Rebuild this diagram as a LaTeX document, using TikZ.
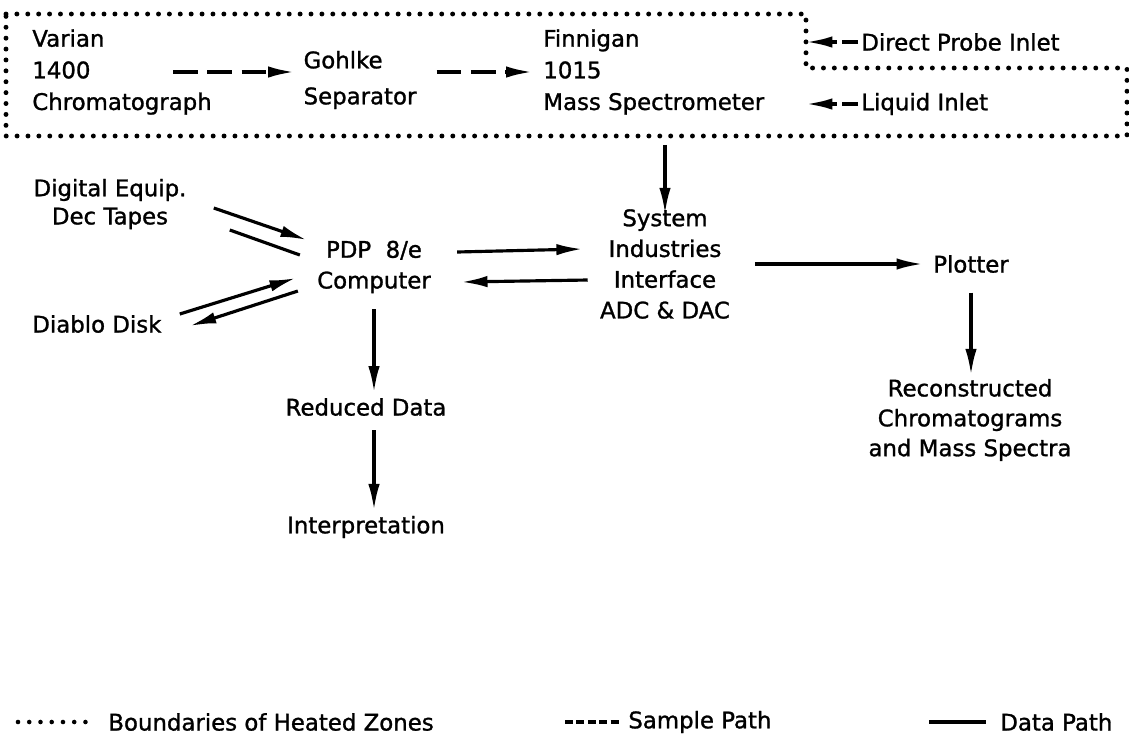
\documentclass[tikz,border=0pt]{standalone}
\usepackage{fontspec}
\setmainfont{DejaVu Sans}[FakeBold=1.2]
\usetikzlibrary{arrows.meta}
\tikzset{
  lbl/.style={inner sep=0pt, font=\fontsize{13}{17.5}\selectfont},
  heatzone/.style={line width=2.8pt, line cap=round, dash pattern=on 0pt off 6.2pt},
  samplepath/.style={line width=1.9pt, dash pattern=on 14pt off 5.5pt, -{Latex[length=15pt,width=6.5pt]}},
  datapath/.style={line width=1.8pt, -{Latex[length=15pt,width=6.5pt]}},
}
\begin{document}
\begin{tikzpicture}[x=0.02cm, y=-0.02cm]
  \useasboundingbox (0,0) rectangle (1129,748);
  % Heated zones
  \coordinate (zn) at (806,68);
  \coordinate (zb) at (6,136);
  \draw[heatzone] (6,14) -- (806,14) -- (zn) -- (1127,68) -- (1127,136) -- (zb) -- cycle;
  % GC / MS train
  \node[lbl, anchor=west, align=left, font=\fontsize{13}{18}\selectfont] (varian) at (32,72) {Varian\\1400\\Chromatograph};
  \node[lbl, align=left, font=\fontsize{13}{20.5}\selectfont] (gohlke) at (360,80) {Gohlke\\Separator};
  \node[lbl, anchor=west, align=left, font=\fontsize{13}{18}\selectfont] (finnigan) at (543,72) {Finnigan\\1015\\Mass Spectrometer};
  \node[lbl, anchor=west] (probe) at (861,42) {Direct Probe Inlet};
  \node[lbl, anchor=west] (liquid) at (861,104) {Liquid Inlet};
  % Sample path
  \draw[samplepath, shorten >=5pt] ([shift={(-39,0)}]varian.east) -- (gohlke.west |- varian.east);
  \draw[samplepath, shorten >=6pt] ([shift={(20,-8)}]gohlke.east) -- (finnigan.west |- varian.east);
  \draw[samplepath, dash pattern=on 9pt off 3pt] ([shift={(-3,0)}]probe.west) -- (probe.west -| zn);
  \draw[samplepath, dash pattern=on 9pt off 3pt] ([shift={(-3,0)}]liquid.west) -- (liquid.west -| zn);
  % Data side
  \node[lbl, align=center, font=\fontsize{13}{16}\selectfont] (digital) at (110,204) {Digital Equip.\\Dec Tapes};
  \node[lbl, align=center] (pdp) at (374,267) {PDP \ 8/e\\Computer};
  \node[lbl, anchor=west] (diablo) at (32,324) {Diablo Disk};
  \node[lbl, align=center] (sysif) at (665,264) {System\\Industries\\Interface\\ADC \& DAC};
  \node[lbl] (plotter) at (971,264) {Plotter};
  \node[lbl] (reduced) at (366,407) {Reduced Data};
  \node[lbl] (interp) at (366,527) {Interpretation};
  \node[lbl, align=center, font=\fontsize{13}{17}\selectfont] (recon) at (970,420) {Reconstructed\\Chromatograms\\and Mass Spectra};
  % Data path
  \draw[datapath] ([shift={(27,4)}]digital.east) -- ([shift={(-10,-27)}]pdp.west);
  \draw[line width=1.8pt] ([shift={(-17,-12)}]pdp.west) -- ([shift={(43,26)}]digital.east);
  \draw[datapath] ([shift={(18,-10)}]diablo.east) -- ([shift={(-21,11)}]pdp.west);
  \draw[datapath] ([shift={(-19,24)}]pdp.west) -- ([shift={(28,2)}]diablo.east);
  \draw[datapath] ([shift={(26,-15)}]pdp.east) -- ([shift={(-17,-15)}]sysif.west);
  \draw[datapath] ([shift={(-12,16)}]sysif.west) -- ([shift={(30,15)}]pdp.east);
  \draw[datapath, shorten <=5pt, shorten >=-3pt] (sysif.north |- zb) -- (sysif.north);
  \draw[datapath, shorten <=14pt, shorten >=5.7pt] (sysif.east) -- (plotter.west);
  \draw[datapath, shorten <=11pt, shorten >=2pt] (plotter.south) -- (plotter.south |- recon.north);
  \draw[datapath, shorten <=9pt, shorten >=3pt] (pdp.south) -- (pdp.south |- reduced.north);
  \draw[datapath, shorten <=8pt, shorten >=3pt] (pdp.south |- reduced.south) -- (pdp.south |- interp.north);
  % Legend
  \node[lbl, anchor=west] (lgzone) at (108,722) {Boundaries of Heated Zones};
  \node[lbl, anchor=west] (lgsample) at (628,722) {Sample Path};
  \node[lbl, anchor=west] (lgdata) at (1000,722) {Data Path};
  \draw[heatzone, line width=2.6pt, dash pattern=on 0pt off 6.4pt] ([shift={(-90,0)}]lgzone.west) -- ([shift={(-16,0)}]lgzone.west);
  \draw[line width=2pt, dash pattern=on 4.5pt off 2pt] ([shift={(-63,0)}]lgsample.west) -- ([shift={(-9,0)}]lgsample.west);
  \draw[line width=2pt] ([shift={(-71,0)}]lgdata.west) -- ([shift={(-14,0)}]lgdata.west);
\end{tikzpicture}
\end{document}
